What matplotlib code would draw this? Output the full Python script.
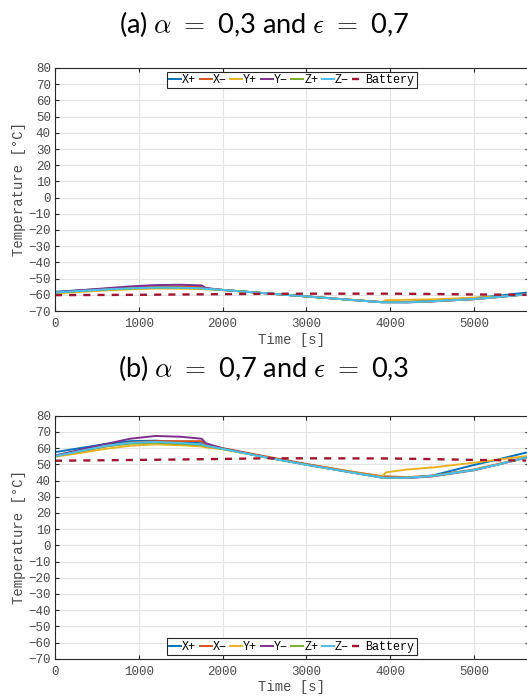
import numpy as np
import matplotlib
matplotlib.use("Agg")
import matplotlib.pyplot as plt

# time samples [s]
time = [0, 300, 600, 900, 1200, 1500, 1750, 1800, 2000, 2500, 3000, 3500,
        3900, 3950, 4200, 4500, 5000, 5300, 5620]

labels = ["X+", "X\u2212", "Y+", "Y\u2212", "Z+", "Z\u2212"]
colors = ["#0072BD", "#D95319", "#EDB120", "#7E2F8E", "#77AC30", "#4DBEEE"]
battery_color = "#A2142F"

# (a) alpha = 0,3 and epsilon = 0,7
a_xp = [-58.1, -57.2, -56.3, -55.6, -55.2, -55.4, -55.8, -56.0, -57.0, -59.0, -61.0, -63.0,
        -64.5, -64.5, -64.4, -63.5, -62.0, -60.5, -58.7]
a_xm = [-58.8, -57.7, -56.6, -55.7, -55.0, -54.9, -55.0, -56.2, -57.0, -59.0, -61.0, -63.0,
        -64.5, -64.5, -64.4, -64.0, -62.7, -61.3, -59.6]
a_yp = [-59.2, -58.2, -57.3, -56.6, -56.1, -56.2, -56.5, -56.6, -57.0, -59.0, -61.0, -63.0,
        -64.5, -63.3, -63.1, -62.8, -61.8, -61.0, -60.0]
a_ym = [-58.5, -57.2, -56.0, -54.8, -54.0, -53.8, -54.2, -55.8, -57.0, -59.0, -61.0, -63.0,
        -64.6, -64.6, -64.7, -64.1, -62.7, -61.4, -59.7]
a_zp = [-58.7, -57.7, -56.8, -56.1, -55.6, -55.7, -56.1, -56.4, -57.0, -59.0, -61.0, -63.0,
        -64.6, -64.6, -64.6, -64.0, -62.6, -61.3, -59.7]
a_zm = [-58.6, -57.6, -56.7, -56.0, -55.5, -55.6, -56.0, -56.3, -57.0, -59.0, -61.0, -63.0,
        -64.6, -64.6, -64.6, -64.0, -62.6, -61.3, -59.7]

# (b) alpha = 0,7 and epsilon = 0,3
b_xp = [57.5, 60.0, 62.5, 64.3, 64.6, 63.8, 63.0, 61.5, 59.6, 54.6, 50.0, 45.5,
        42.0, 41.8, 41.6, 43.0, 49.6, 53.2, 57.2]
b_xm = [55.0, 58.0, 61.0, 63.5, 64.3, 64.3, 64.3, 62.0, 60.0, 55.0, 50.2, 45.8,
        42.7, 42.6, 42.0, 43.0, 46.8, 50.3, 54.4]
b_yp = [54.6, 57.0, 59.5, 61.5, 62.3, 61.8, 61.0, 60.5, 59.3, 54.5, 49.8, 45.5,
        42.3, 45.0, 46.8, 48.0, 51.0, 53.0, 55.0]
b_ym = [55.4, 59.0, 62.5, 65.8, 67.5, 67.0, 65.8, 63.0, 59.8, 54.6, 49.8, 45.3,
        41.8, 41.6, 41.5, 42.5, 46.3, 50.0, 54.0]
b_zp = [55.0, 58.0, 61.0, 62.8, 63.3, 62.6, 61.8, 61.2, 59.5, 54.4, 49.7, 45.3,
        41.8, 41.7, 41.7, 42.8, 46.5, 50.0, 54.2]
b_zm = [55.0, 58.2, 61.3, 63.3, 63.8, 63.2, 62.3, 61.5, 59.5, 54.4, 49.7, 45.3,
        41.8, 41.7, 41.7, 42.8, 46.5, 50.0, 54.2]

batt_time = [0, 1000, 2000, 2500, 3000, 4000, 4500, 5000, 5620]
a_batt = [-60.2, -60.0, -59.6, -59.4, -59.3, -59.3, -59.5, -59.8, -60.0]
b_batt = [52.2, 52.7, 53.3, 53.7, 53.7, 53.6, 53.2, 52.7, 52.3]

titles = [r"(a) $\alpha\ =\ $0,3 and $\epsilon\ =\ $0,7",
          r"(b) $\alpha\ =\ $0,7 and $\epsilon\ =\ $0,3"]

plt.rcParams["mathtext.fontset"] = "cm"
mono = "Liberation Mono"
tick_gray = "#4a4a4a"

W, H = 527, 700
fig = plt.figure(figsize=(W / 100, H / 100), dpi=100)


def make_panel(top_px, series, batt, title, legend_loc, title_px):
    left_px, right_px = 55, 528.5
    bottom_px = top_px + 243
    ax = fig.add_axes([left_px / W, 1 - bottom_px / H,
                       (right_px - left_px) / W, 243 / H])
    for vals, lab, col in zip(series, labels, colors):
        ax.plot(time, vals, color=col, lw=1.4, label=lab)
    ax.plot(batt_time, batt, color=battery_color, lw=1.7, ls=(0, (3, 3)),
            label="Battery")
    ax.set_xlim(0, 5650)
    ax.set_ylim(-70, 80)
    ax.set_yticks(np.arange(-70, 81, 10))
    ax.set_xticks([0, 1000, 2000, 3000, 4000, 5000])
    ax.grid(True, color="#e3e3e3", lw=0.8)
    ax.set_axisbelow(True)
    ax.tick_params(direction="in", length=3, width=0.8, top=True, right=True,
                   labelsize=9, colors="#262626", labelcolor=tick_gray)
    ax.tick_params(axis="x", pad=5)
    ax.tick_params(axis="y", pad=3)
    for lbl in ax.get_xticklabels() + ax.get_yticklabels():
        lbl.set_fontfamily(mono)
    for sp in ax.spines.values():
        sp.set_color("#262626")
        sp.set_linewidth(0.8)
    ax.set_xlabel("Time [s]", family=mono, fontsize=10, color=tick_gray, labelpad=2)
    ax.set_ylabel("Temperature [\u00b0C]", family=mono, fontsize=10,
                  color=tick_gray, labelpad=2)
    leg = ax.legend(loc=legend_loc, ncol=7, prop={"family": mono, "size": 8.5},
                    handlelength=1.0, handletextpad=0.1, columnspacing=0.3,
                    borderpad=0.2, borderaxespad=0.3, fancybox=False,
                    framealpha=1, edgecolor="#262626")
    leg.get_frame().set_linewidth(0.8)
    fig.text(0.5, 1 - title_px / H, title, ha="center", va="center",
             fontsize=19.5, family="Lato")
    return ax


make_panel(68, [a_xp, a_xm, a_yp, a_ym, a_zp, a_zm], a_batt, titles[0],
           "upper center", 24)
make_panel(415.7, [b_xp, b_xm, b_yp, b_ym, b_zp, b_zm], b_batt, titles[1],
           "lower center", 368)

fig.savefig("out.png", dpi=100)
